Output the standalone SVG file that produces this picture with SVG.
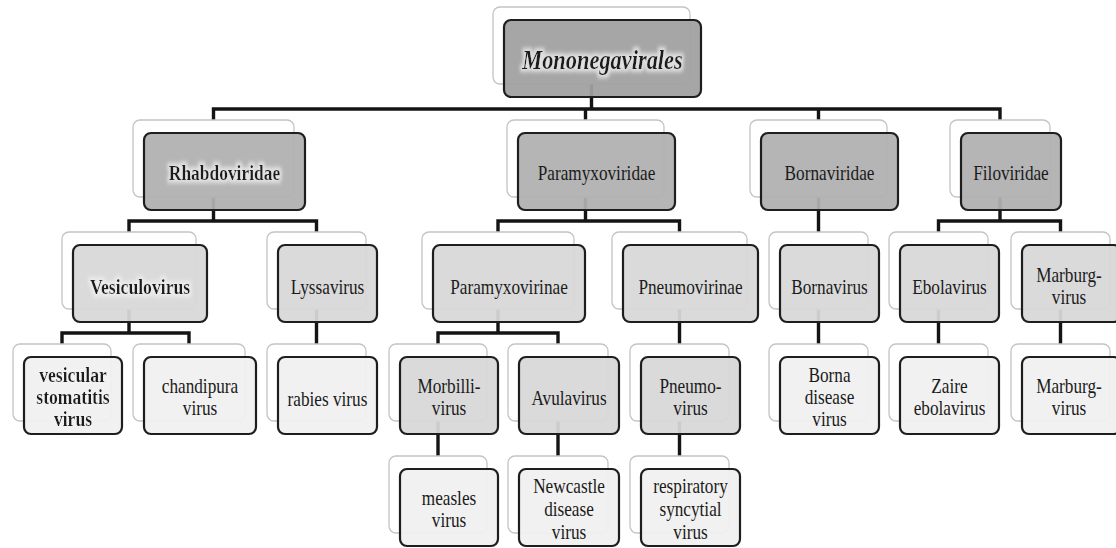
<svg xmlns="http://www.w3.org/2000/svg" width="1116" height="548" viewBox="0 0 1116 548">
<defs>
<style>
.bk{fill:#ffffff;stroke:#c4c4c4;stroke-width:1.3}
.fr{stroke:#1e1e1e;stroke-width:2.2;fill-opacity:0.94}
.f0{fill:#a0a0a0}
.f1{fill:#b0b0b0}
.f2{fill:#d8d8d8}
.f3{fill:#f0f0f0}
.t{font-family:"Liberation Serif","Times New Roman",serif;font-size:21px;fill:#1a1a1a;text-anchor:middle}
.b{font-weight:bold}
.title{font-size:28px;font-weight:bold;font-style:italic}
.con{fill:none;stroke:#141414;stroke-width:3.4;stroke-linejoin:miter}
</style>
<filter id="halo" x="-15%" y="-40%" width="130%" height="180%">
<feMorphology in="SourceAlpha" operator="dilate" radius="2.5" result="d"/>
<feGaussianBlur in="d" stdDeviation="2" result="bl"/>
<feFlood flood-color="#f2f2f2" flood-opacity="0.75"/>
<feComposite in2="bl" operator="in" result="h"/>
<feMerge><feMergeNode in="h"/><feMergeNode in="SourceGraphic"/></feMerge>
</filter>
</defs>
<rect x="0" y="0" width="1116" height="548" fill="#ffffff"/>
<g id="connectors" class="con">
<path d="M591.5 84V109M213.5 120V109H1000V120M585.5 109V120M818.5 109V120"/>
<path d="M213.5 197V221M129 232V221H316.5V232"/>
<path d="M585.5 197V221M498 232V221H679.5V232"/>
<path d="M818.5 197V232"/>
<path d="M1000 197V221M938.5 232V221H1060.5V232"/>
<path d="M129 309V333M62 344V333H189V344"/>
<path d="M316.5 309V344"/>
<path d="M498 309V333M438 344V333H558V344"/>
<path d="M679.5 309V344"/>
<path d="M818.5 309V344M938.5 309V344M1060.5 309V344"/>
<path d="M438 421V456M558 421V456M679.5 421V456"/>
</g>
<g id="n-mononegavirales">
<rect class="bk" x="493" y="7" width="197" height="77" rx="7"/>
<rect class="fr f0" x="504" y="20" width="197" height="77" rx="7"/>
<text class="t title" filter="url(#halo)" transform="translate(602.5 69) scale(0.8 1)">Mononegavirales</text>
</g>
<g id="n-rhabdoviridae">
<rect class="bk" x="133" y="120" width="161" height="77" rx="7"/>
<rect class="fr f1" x="144" y="133" width="161" height="77" rx="7"/>
<text class="t b" filter="url(#halo)" transform="translate(224.5 180) scale(0.83 1)">Rhabdoviridae</text>
</g>
<g id="n-paramyxoviridae">
<rect class="bk" x="507" y="120" width="157" height="77" rx="7"/>
<rect class="fr f1" x="518" y="133" width="157" height="77" rx="7"/>
<text class="t" transform="translate(596.5 180) scale(0.82 1)">Paramyxoviridae</text>
</g>
<g id="n-bornaviridae">
<rect class="bk" x="750" y="120" width="137" height="77" rx="7"/>
<rect class="fr f1" x="761" y="133" width="137" height="77" rx="7"/>
<text class="t" transform="translate(829.5 180) scale(0.82 1)">Bornaviridae</text>
</g>
<g id="n-filoviridae">
<rect class="bk" x="950" y="120" width="100" height="77" rx="7"/>
<rect class="fr f1" x="961" y="133" width="100" height="77" rx="7"/>
<text class="t" transform="translate(1011 180) scale(0.82 1)">Filoviridae</text>
</g>
<g id="n-vesiculovirus">
<rect class="bk" x="62" y="232" width="134" height="77" rx="7"/>
<rect class="fr f2" x="73" y="245" width="134" height="77" rx="7"/>
<text class="t b" filter="url(#halo)" transform="translate(140 294) scale(0.84 1)">Vesiculovirus</text>
</g>
<g id="n-lyssavirus">
<rect class="bk" x="267" y="232" width="99" height="77" rx="7"/>
<rect class="fr f2" x="278" y="245" width="99" height="77" rx="7"/>
<text class="t" transform="translate(327.5 294) scale(0.82 1)">Lyssavirus</text>
</g>
<g id="n-paramyxovirinae">
<rect class="bk" x="422" y="232" width="152" height="77" rx="7"/>
<rect class="fr f2" x="433" y="245" width="152" height="77" rx="7"/>
<text class="t" transform="translate(509 294) scale(0.82 1)">Paramyxovirinae</text>
</g>
<g id="n-pneumovirinae">
<rect class="bk" x="612" y="232" width="135" height="77" rx="7"/>
<rect class="fr f2" x="623" y="245" width="135" height="77" rx="7"/>
<text class="t" transform="translate(690.5 294) scale(0.82 1)">Pneumovirinae</text>
</g>
<g id="n-bornavirus">
<rect class="bk" x="769" y="232" width="99" height="77" rx="7"/>
<rect class="fr f2" x="780" y="245" width="99" height="77" rx="7"/>
<text class="t" transform="translate(829.5 294) scale(0.82 1)">Bornavirus</text>
</g>
<g id="n-ebolavirus">
<rect class="bk" x="889" y="232" width="99" height="77" rx="7"/>
<rect class="fr f2" x="900" y="245" width="99" height="77" rx="7"/>
<text class="t" transform="translate(949.5 294) scale(0.82 1)">Ebolavirus</text>
</g>
<g id="n-marburgvirus-genus">
<rect class="bk" x="1011" y="232" width="99" height="77" rx="7"/>
<rect class="fr f2" x="1022" y="245" width="99" height="77" rx="7"/>
<text class="t" transform="translate(1069 282) scale(0.82 1)"><tspan x="0" y="0">Marburg-</tspan><tspan x="0" y="22">virus</tspan></text>
</g>
<g id="n-vsv">
<rect class="bk" x="13" y="344" width="98" height="77" rx="7"/>
<rect class="fr f3" x="24" y="357" width="98" height="77" rx="7"/>
<text class="t b" filter="url(#halo)" transform="translate(73 382) scale(0.84 1)"><tspan x="0" y="0">vesicular</tspan><tspan x="0" y="22">stomatitis</tspan><tspan x="0" y="44">virus</tspan></text>
</g>
<g id="n-chandipura">
<rect class="bk" x="133" y="344" width="112" height="77" rx="7"/>
<rect class="fr f3" x="144" y="357" width="112" height="77" rx="7"/>
<text class="t" transform="translate(200 393) scale(0.82 1)"><tspan x="0" y="0">chandipura</tspan><tspan x="0" y="22">virus</tspan></text>
</g>
<g id="n-rabies">
<rect class="bk" x="267" y="344" width="99" height="77" rx="7"/>
<rect class="fr f3" x="278" y="357" width="99" height="77" rx="7"/>
<text class="t" transform="translate(327.5 406) scale(0.82 1)">rabies virus</text>
</g>
<g id="n-morbillivirus">
<rect class="bk" x="389" y="344" width="98" height="77" rx="7"/>
<rect class="fr f2" x="400" y="357" width="98" height="77" rx="7"/>
<text class="t" transform="translate(449 393) scale(0.82 1)"><tspan x="0" y="0">Morbilli-</tspan><tspan x="0" y="22">virus</tspan></text>
</g>
<g id="n-avulavirus">
<rect class="bk" x="508" y="344" width="100" height="77" rx="7"/>
<rect class="fr f2" x="519" y="357" width="100" height="77" rx="7"/>
<text class="t" transform="translate(569 405) scale(0.82 1)">Avulavirus</text>
</g>
<g id="n-pneumovirus">
<rect class="bk" x="630" y="344" width="99" height="77" rx="7"/>
<rect class="fr f2" x="641" y="357" width="99" height="77" rx="7"/>
<text class="t" transform="translate(690.5 393) scale(0.82 1)"><tspan x="0" y="0">Pneumo-</tspan><tspan x="0" y="22">virus</tspan></text>
</g>
<g id="n-borna-disease-virus">
<rect class="bk" x="769" y="344" width="99" height="77" rx="7"/>
<rect class="fr f3" x="780" y="357" width="99" height="77" rx="7"/>
<text class="t" transform="translate(829.5 382) scale(0.82 1)"><tspan x="0" y="0">Borna</tspan><tspan x="0" y="22">disease</tspan><tspan x="0" y="44">virus</tspan></text>
</g>
<g id="n-zaire-ebolavirus">
<rect class="bk" x="889" y="344" width="99" height="77" rx="7"/>
<rect class="fr f3" x="900" y="357" width="99" height="77" rx="7"/>
<text class="t" transform="translate(949.5 393) scale(0.82 1)"><tspan x="0" y="0">Zaire</tspan><tspan x="0" y="22">ebolavirus</tspan></text>
</g>
<g id="n-marburgvirus-species">
<rect class="bk" x="1011" y="344" width="99" height="77" rx="7"/>
<rect class="fr f3" x="1022" y="357" width="99" height="77" rx="7"/>
<text class="t" transform="translate(1069 393) scale(0.82 1)"><tspan x="0" y="0">Marburg-</tspan><tspan x="0" y="22">virus</tspan></text>
</g>
<g id="n-measles">
<rect class="bk" x="389" y="456" width="98" height="77" rx="7"/>
<rect class="fr f3" x="400" y="469" width="98" height="77" rx="7"/>
<text class="t" transform="translate(449 505) scale(0.82 1)"><tspan x="0" y="0">measles</tspan><tspan x="0" y="22">virus</tspan></text>
</g>
<g id="n-newcastle">
<rect class="bk" x="508" y="456" width="100" height="77" rx="7"/>
<rect class="fr f3" x="519" y="469" width="100" height="77" rx="7"/>
<text class="t" transform="translate(569 493) scale(0.82 1)"><tspan x="0" y="0">Newcastle</tspan><tspan x="0" y="23">disease</tspan><tspan x="0" y="46">virus</tspan></text>
</g>
<g id="n-rsv">
<rect class="bk" x="630" y="456" width="99" height="77" rx="7"/>
<rect class="fr f3" x="641" y="469" width="99" height="77" rx="7"/>
<text class="t" transform="translate(690.5 493) scale(0.82 1)"><tspan x="0" y="0">respiratory</tspan><tspan x="0" y="23">syncytial</tspan><tspan x="0" y="46">virus</tspan></text>
</g>
</svg>
